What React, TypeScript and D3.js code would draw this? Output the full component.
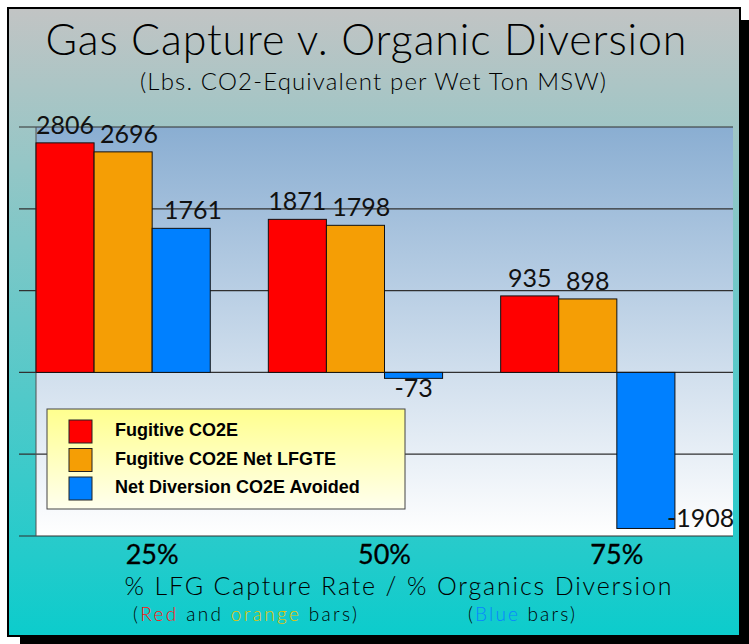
import React from "react";
import * as d3 from "d3";

const categories = ["25%", "50%", "75%"];
const seriesNames = ["Fugitive CO2E", "Fugitive CO2E Net LFGTE", "Net Diversion CO2E Avoided"];
const fugitive = [2806, 1871, 935];
const fugitiveNetLFGTE = [2696, 1798, 898];
const netDiversion = [1761, -73, -1908];
const yTicks = [-2000, -1000, 0, 1000, 2000, 3000];
const seriesColors = ["#ff0000", "#f59e05", "#0080ff"];

const W = 749;
const H = 644;
const FONT = "Lato, 'Open Sans', 'DejaVu Sans', sans-serif";

export default function App() {
  const plot = { left: 36, right: 733, top: 127, bottom: 536 };
  const x = d3.scaleBand<string>().domain(categories).range([plot.left, plot.right]).padding(0);
  const bw = x.bandwidth();
  const inner = d3.scaleBand<string>().domain(seriesNames).range([0, bw * 0.75]).padding(0);
  const y = d3.scaleLinear().domain([-2000, 3000]).range([plot.bottom, plot.top]);
  const series = [fugitive, fugitiveNetLFGTE, netDiversion];

  const bars: any[] = [];
  const labels: any[] = [];
  categories.forEach((c, ci) => {
    let prevRight = -Infinity;
    series.forEach((vals, si) => {
      const v = vals[ci];
      const bx = (x(c) as number) + (inner(seriesNames[si]) as number);
      const w = inner.bandwidth();
      const y0 = y(0);
      const yv = y(v);
      bars.push({ key: `${ci}-${si}`, x: bx, y: Math.min(y0, yv), w, h: Math.abs(yv - y0), fill: seriesColors[si] });
      const txt = String(v);
      const tw = txt.length * 14.5;
      if (v >= 0) {
        let cx = bx + w / 2;
        if (cx - tw / 2 < prevRight + 6) cx = prevRight + 6 + tw / 2;
        prevRight = cx + tw / 2;
        labels.push({ key: `l${ci}-${si}`, x: cx, y: yv - 9, anchor: "middle", text: txt });
      } else if (yv + 21 > plot.bottom) {
        labels.push({ key: `l${ci}-${si}`, x: bx + w - 8, y: yv - 1, anchor: "start", text: txt });
      } else {
        labels.push({ key: `l${ci}-${si}`, x: bx + w / 2, y: yv + 19, anchor: "middle", text: txt });
      }
    });
  });

  return (
    <div style={{ position: "absolute", left: 0, top: 0, width: W, height: H }}>
      <svg width={W} height={H} style={{ display: "block" }}>
        <defs>
          <linearGradient id="panelGrad" x1="0" y1="0" x2="0" y2="1">
            <stop offset="0" stopColor="#c2c4c4" />
            <stop offset="1" stopColor="#0ccccc" />
          </linearGradient>
          <linearGradient id="plotGrad" x1="0" y1="0" x2="0" y2="1">
            <stop offset="0" stopColor="#8aaed2" />
            <stop offset="1" stopColor="#ffffff" />
          </linearGradient>
          <linearGradient id="legendGrad" x1="0" y1="0" x2="0" y2="1">
            <stop offset="0" stopColor="#ffff8e" />
            <stop offset="1" stopColor="#ffffee" />
          </linearGradient>
        </defs>
        <rect x={0} y={0} width={W} height={H} fill="#ffffff" />
        {/* drop shadow */}
        <rect x={20} y={20} width={W - 20} height={H - 20} fill="#000" />
        {/* panel */}
        <rect x={8} y={8} width={732} height={628} fill="url(#panelGrad)" stroke="#000" strokeWidth={2} />

        {/* title */}
        <text x={366} y={55} textAnchor="middle" fontFamily={FONT} fontWeight={300} fontSize={43} fill="#000" textLength={641} lengthAdjust="spacing">
          Gas Capture v. Organic Diversion
        </text>
        <text x={373} y={90} textAnchor="middle" fontFamily={FONT} fontWeight={300} fontSize={24} fill="#000" textLength={466} lengthAdjust="spacing">
          (Lbs. CO2-Equivalent per Wet Ton MSW)
        </text>

        {/* plot background */}
        <rect x={plot.left} y={plot.top} width={plot.right - plot.left} height={plot.bottom - plot.top} fill="url(#plotGrad)" />
        {yTicks.map((t) => (
          <line key={t} x1={19} x2={plot.right} y1={y(t)} y2={y(t)} stroke="#303030" strokeWidth={1.2} />
        ))}
        <line x1={plot.left} x2={plot.left} y1={plot.top} y2={plot.bottom} stroke="#505050" strokeWidth={1} />

        {bars.map((b) => (
          <rect key={b.key} x={b.x} y={b.y} width={b.w} height={b.h} fill={b.fill} stroke="#111" strokeWidth={1} />
        ))}

        {labels.map((l) => (
          <text key={l.key} x={l.x} y={l.y} textAnchor={l.anchor} fontFamily={FONT} fontWeight={400} fontSize={25} fill="#111">
            {l.text}
          </text>
        ))}

        {/* legend */}
        <rect x={47} y={409} width={358} height={100} fill="url(#legendGrad)" stroke="#444" strokeWidth={1} />
        {seriesNames.map((s, i) => (
          <g key={s} transform={`translate(69, ${420 + i * 28.5})`}>
            <rect x={0} y={0} width={23} height={23} fill={seriesColors[i]} stroke="#222" strokeWidth={1} />
            <text x={46} y={16} fontFamily="'Liberation Sans', Arial, sans-serif" fontWeight="bold" fontSize={18} fill="#000">
              {s}
            </text>
          </g>
        ))}

        {/* category labels */}
        {categories.map((c) => (
          <text key={c} x={(x(c) as number) + bw / 2} y={564} textAnchor="middle" fontFamily={FONT} fontWeight={400} fontSize={27} fill="#000" stroke="#000" strokeWidth={0.3}>
            {c}
          </text>
        ))}
        <text x={398} y={595} textAnchor="middle" fontFamily={FONT} fontWeight={300} fontSize={25} fill="#000" textLength={547} lengthAdjust="spacing">
          % LFG Capture Rate / % Organics Diversion
        </text>
        <text x={133} y={621} fontFamily={FONT} fontWeight={300} fontSize={19} fill="#000" textLength={224} lengthAdjust="spacing">
          (<tspan fill="#ff1010">Red</tspan> and <tspan fill="#e8c400">orange</tspan> bars)
        </text>
        <text x={468} y={621} fontFamily={FONT} fontWeight={300} fontSize={19} fill="#000" textLength={107} lengthAdjust="spacing">
          (<tspan fill="#0a84ff">Blue</tspan> bars)
        </text>
      </svg>
    </div>
  );
}
